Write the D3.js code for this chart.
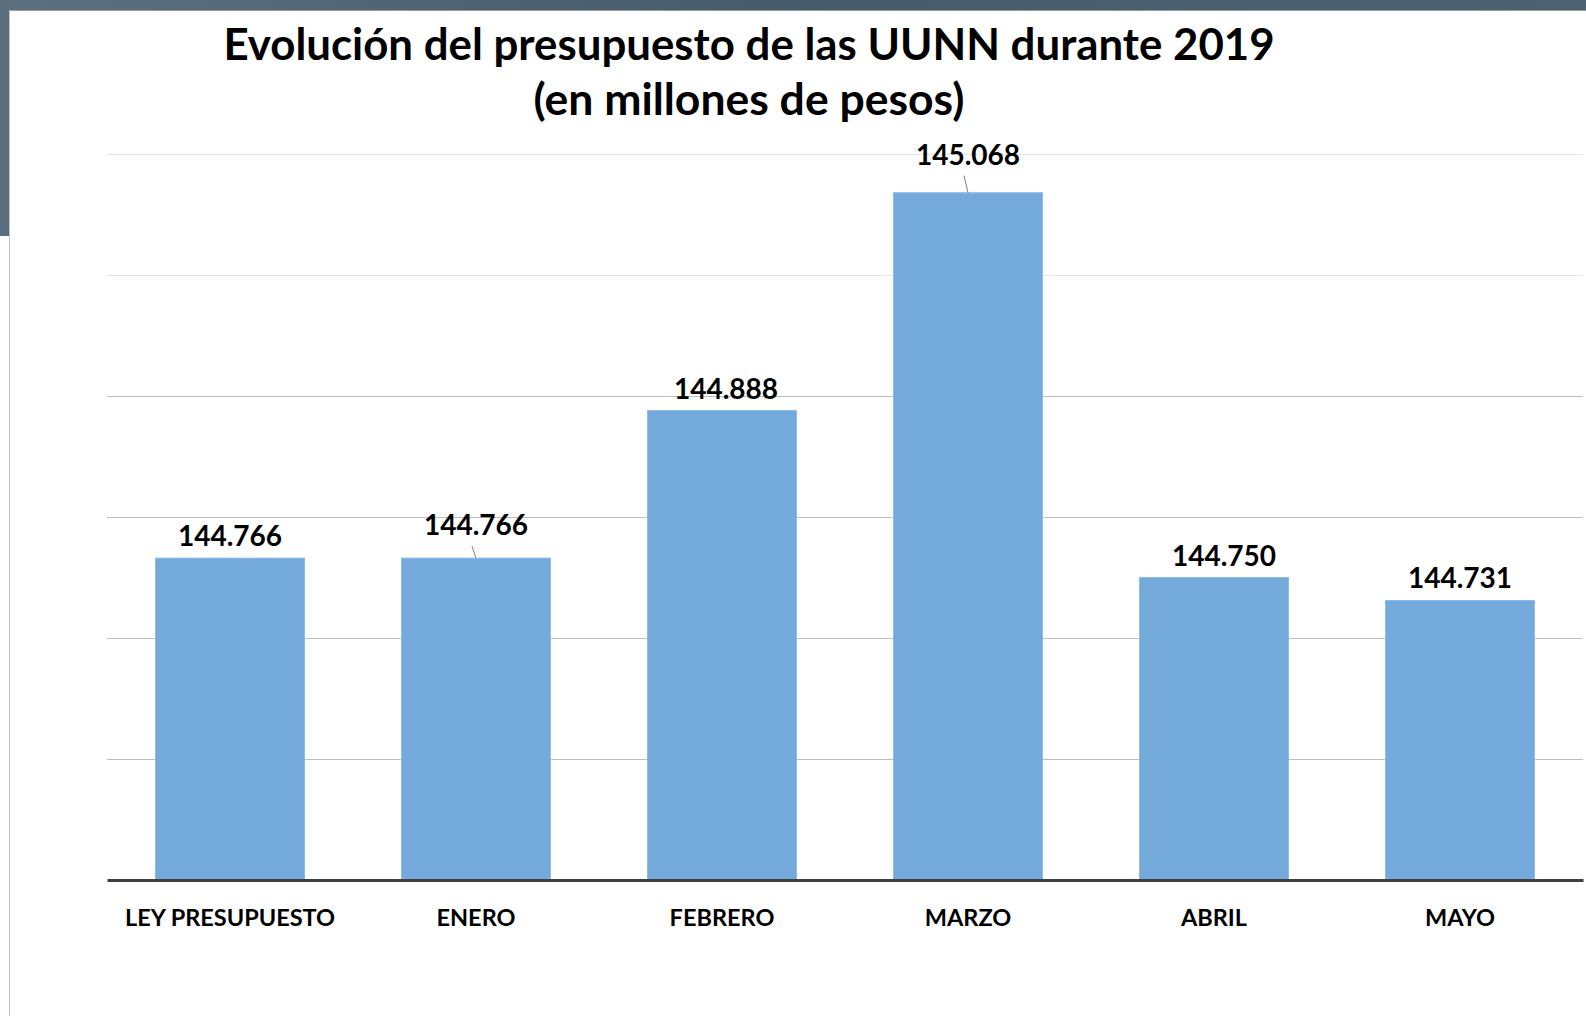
<!DOCTYPE html>
<html>
<head>
<meta charset="utf-8">
<script src="https://cdn.jsdelivr.net/npm/d3@7"></script>
<style>
  html, body { margin: 0; padding: 0; background: #fff; }
  svg { display: block; }
  text { font-family: Lato, "Open Sans", sans-serif; font-weight: 700; fill: #000; }
</style>
</head>
<body>
<div id="chart"></div>
<script>
// Presupuesto UUNN 2019, millones de pesos
var categories = ["LEY PRESUPUESTO", "ENERO", "FEBRERO", "MARZO", "ABRIL", "MAYO"];
var values = [144766, 144766, 144888, 145068, 144750, 144731];
var yTicks = [144600, 144700, 144800, 144900, 145000, 145100];
var titleLines = ["Evolución del presupuesto de las UUNN durante 2019", "(en millones de pesos)"];

var W = 1586, H = 1016;
var plot = {left: 107, right: 1583, top: 154, bottom: 880};

// labels that were dragged up in the original, with a leader line
var lifted = {"ENERO": 23, "MARZO": 28};
// small sideways nudges of some labels in the original
var nudgeX = {"FEBRERO": 4, "ABRIL": 10};

var es = d3.formatLocale({decimal: ",", thousands: ".", grouping: [3], currency: ["$", ""]});
var fmt = es.format(",d");

var rows = categories.map(function(c, i){ return {cat: c, val: values[i]}; });

var svg = d3.select("#chart").append("svg").attr("width", W).attr("height", H);

// slide frame bits (dark strip top and left)
var grad = svg.append("defs").append("linearGradient").attr("id", "strip")
  .attr("x1", 0).attr("x2", 1).attr("y1", 0).attr("y2", 0);
grad.append("stop").attr("offset", "0%").attr("stop-color", "#5c7080");
grad.append("stop").attr("offset", "50%").attr("stop-color", "#455a6a");
grad.append("stop").attr("offset", "100%").attr("stop-color", "#4d6272");
svg.append("rect").attr("x", 0).attr("y", 0).attr("width", W).attr("height", 10).attr("fill", "url(#strip)");
svg.append("rect").attr("x", 0).attr("y", 0).attr("width", 9).attr("height", 236).attr("fill", "#5a6e7e");
svg.append("line").attr("x1", 9).attr("x2", W).attr("y1", 10.5).attr("y2", 10.5)
  .style("stroke", "#9a9a9a").style("stroke-width", "1px");
svg.append("line").attr("x1", 9.5).attr("x2", 9.5).attr("y1", 10).attr("y2", H)
  .style("stroke", "#c4c4c4").style("stroke-width", "1px");

var x = d3.scaleBand().domain(categories).range([plot.left, plot.right])
  .paddingInner(0.394).paddingOuter(0.197);
var y = d3.scaleLinear().domain([144500, 145100]).range([plot.bottom, plot.top]);

// gridlines
svg.append("g").attr("class", "grid")
  .attr("transform", "translate(" + plot.left + ",0)")
  .call(d3.axisLeft(y).tickValues(yTicks).tickSize(-(plot.right - plot.left)).tickFormat(""))
  .call(function(g){
    g.select(".domain").remove();
    g.selectAll(".tick line")
      .style("stroke", function(d){ return d >= 145000 ? "#e4e4e4" : "#bdbdbd"; })
      .style("stroke-width", "1px");
  });

// bars
svg.append("g").selectAll("rect").data(rows).enter().append("rect")
  .attr("x", function(d){ return x(d.cat); })
  .attr("width", x.bandwidth())
  .attr("y", function(d){ return y(d.val); })
  .attr("height", function(d){ return y(144500) - y(d.val); })
  .style("fill", "#74a9db")
  .style("stroke", "#8dbbe4").style("stroke-width", "1px");

// baseline + category labels
svg.append("g").attr("transform", "translate(0," + plot.bottom + ")")
  .call(d3.axisBottom(x).tickSize(0).tickPadding(38))
  .call(function(g){
    g.select(".domain").style("stroke", "#3f3f3f").style("stroke-width", "3px");
    g.selectAll("text").style("font-family", "Lato, sans-serif").style("font-weight", 700)
      .style("font-size", "23.5px").style("fill", "#000").attr("dy", "0.32em");
  });

// value labels
var lab = svg.append("g").selectAll("g").data(rows).enter().append("g");
lab.append("text")
  .attr("x", function(d){ return x(d.cat) + x.bandwidth() / 2 + (nudgeX[d.cat] || 0); })
  .attr("y", function(d){ return y(d.val) - (lifted[d.cat] || 12); })
  .attr("text-anchor", "middle")
  .style("font-size", "28px")
  .text(function(d){ return fmt(d.val); });
lab.filter(function(d){ return lifted[d.cat]; }).append("line")
  .attr("x1", function(d){ return x(d.cat) + x.bandwidth() / 2 - 4; })
  .attr("y1", function(d){ return y(d.val) - lifted[d.cat] + 11; })
  .attr("x2", function(d){ return x(d.cat) + x.bandwidth() / 2; })
  .attr("y2", function(d){ return y(d.val); })
  .style("stroke", "#7f7f7f").style("stroke-width", "1px");

// title
svg.append("g").selectAll("text").data(titleLines).enter().append("text")
  .attr("x", 749)
  .attr("y", function(d, i){ return 60 + i * 55; })
  .attr("text-anchor", "middle")
  .style("font-size", function(d, i){ return i ? "44.5px" : "43.8px"; })
  .text(function(d){ return d; });
</script>
</body>
</html>
